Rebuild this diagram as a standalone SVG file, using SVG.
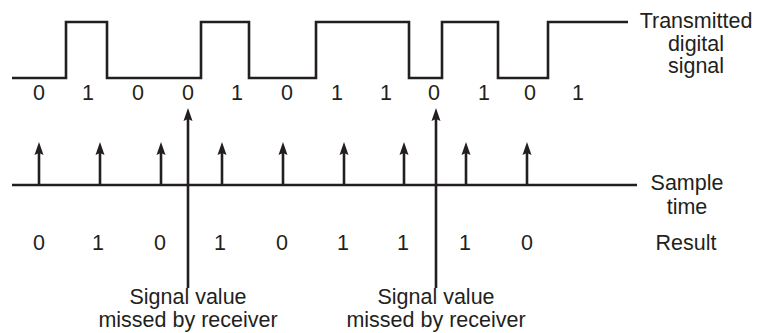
<svg xmlns="http://www.w3.org/2000/svg" width="760" height="333" viewBox="0 0 760 333">
<style>
.ln{stroke:#231f20;stroke-width:2.6;fill:none}
.t{font-family:"Liberation Sans",Arial,sans-serif;font-size:21.5px;fill:#231f20}
.m{text-anchor:middle}
</style>
<defs>
<marker id="ah" markerUnits="userSpaceOnUse" markerWidth="13" markerHeight="10" viewBox="0 0 13 10" refX="6" refY="5" orient="auto">
<path d="M0,0.5 L13,5 L0,9.5 L2,5 Z" fill="#231f20"/>
</marker>
</defs>
<rect width="760" height="333" fill="#fff"/>
<g id="signal">
<path class="ln" d="M12,78 H66 V22 H107 V78 H201 V22 H249 V78 H316 V22 H409 V78 H442 V22 H498 V78 H548 V22 H628"/>
<text class="t m" x="696" y="28">Transmitted</text>
<text class="t m" x="696" y="50.5">digital</text>
<text class="t m" x="696" y="73">signal</text>
</g>
<g id="bits" class="t m">
<text x="39" y="100">0</text>
<text x="88" y="100">1</text>
<text x="138" y="100">0</text>
<text x="188" y="100">0</text>
<text x="237" y="100">1</text>
<text x="287" y="100">0</text>
<text x="337" y="100">1</text>
<text x="386" y="100">1</text>
<text x="434" y="100">0</text>
<text x="484" y="100">1</text>
<text x="530" y="100">0</text>
<text x="578" y="100">1</text>
</g>
<g id="sample-axis">
<line class="ln" x1="12" y1="185" x2="637" y2="185"/>
<text class="t m" x="687" y="190">Sample</text>
<text class="t m" x="687" y="214">time</text>
</g>
<g id="connectors">
<line class="ln" x1="39" y1="185" x2="39" y2="149" marker-end="url(#ah)"/>
<line class="ln" x1="100" y1="185" x2="100" y2="149" marker-end="url(#ah)"/>
<line class="ln" x1="161" y1="185" x2="161" y2="149" marker-end="url(#ah)"/>
<line class="ln" x1="222" y1="185" x2="222" y2="149" marker-end="url(#ah)"/>
<line class="ln" x1="283" y1="185" x2="283" y2="149" marker-end="url(#ah)"/>
<line class="ln" x1="344" y1="185" x2="344" y2="149" marker-end="url(#ah)"/>
<line class="ln" x1="404" y1="185" x2="404" y2="149" marker-end="url(#ah)"/>
<line class="ln" x1="466" y1="185" x2="466" y2="149" marker-end="url(#ah)"/>
<line class="ln" x1="527" y1="185" x2="527" y2="149" marker-end="url(#ah)"/>
<line class="ln" x1="188" y1="288" x2="188" y2="115" marker-end="url(#ah)"/>
<line class="ln" x1="436" y1="288" x2="436" y2="115" marker-end="url(#ah)"/>
</g>
<g id="result" class="t m">
<text x="39" y="250">0</text>
<text x="98" y="250">1</text>
<text x="160" y="250">0</text>
<text x="220" y="250">1</text>
<text x="282" y="250">0</text>
<text x="343" y="250">1</text>
<text x="403" y="250">1</text>
<text x="465" y="250">1</text>
<text x="527" y="250">0</text>
<text x="686" y="250">Result</text>
</g>
<g id="missed-1" class="t m">
<text x="188" y="304">Signal value</text>
<text x="188" y="327">missed by receiver</text>
</g>
<g id="missed-2" class="t m">
<text x="436" y="304">Signal value</text>
<text x="436" y="327">missed by receiver</text>
</g>
</svg>
